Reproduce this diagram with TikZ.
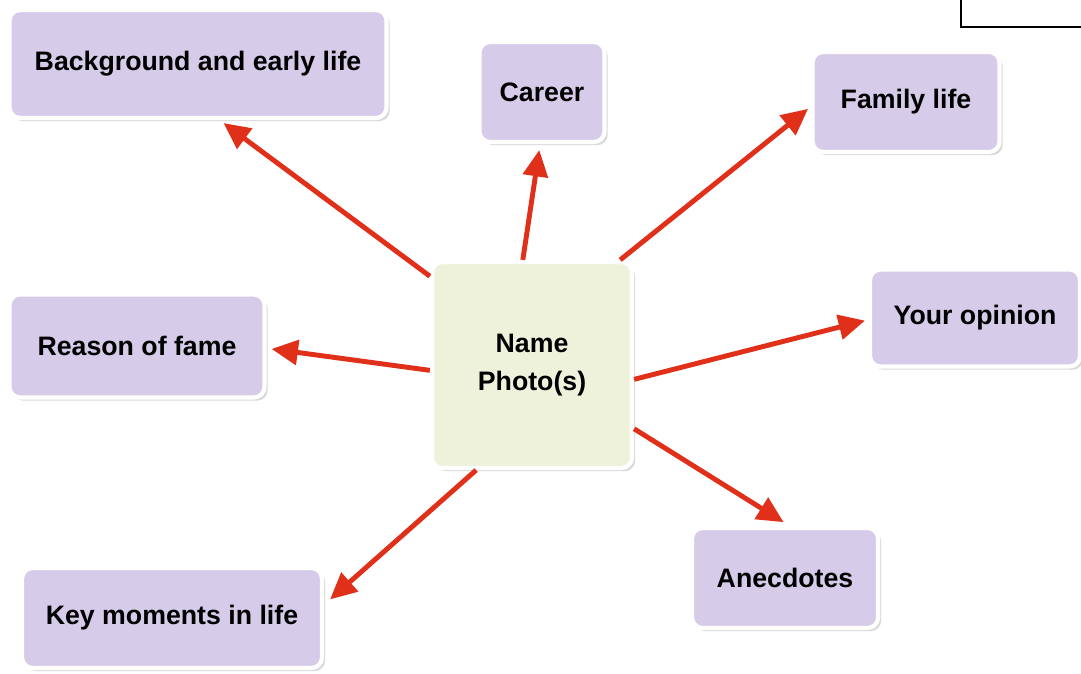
\documentclass[tikz,border=0pt]{standalone}
\usepackage{fontspec}
\setmainfont{Liberation Sans}
\usetikzlibrary{shapes, backgrounds, arrows.meta, shadows}
\definecolor{lilac}{RGB}{214,203,233}
\definecolor{palegreen}{RGB}{238,242,218}
\definecolor{arrowred}{RGB}{224,48,26}

\begin{document}
\begin{tikzpicture}
        \tikzstyle{every node}=[align=center, font=\fontsize{7.6}{9.5}\selectfont\bfseries]
        \tikzstyle{topic}=[rectangle, rounded corners=3pt, fill=lilac, draw=white, line width=1.2pt,
                drop shadow={shadow xshift=0.9pt, shadow yshift=-0.9pt, opacity=0.3}]
        \tikzstyle{hub}=[topic, fill=palegreen, font=\fontsize{7.6}{10.6}\selectfont\bfseries]
        \tikzstyle{spoke}=[draw=arrowred, line width=1.4pt, >={Triangle[length=7.5pt,width=7pt]}, ->]

        \useasboundingbox (0,0) rectangle (10.81,6.73);

        \node at (5.32, 3.08) [hub, minimum width=2cm, minimum height=2.06cm] (name) {Name\\Photo(s)};

        \node at (1.98, 6.09) [topic, minimum width=3.77cm, minimum height=1.08cm] (early) {Background and early life};
        \node at (5.42, 5.81) [topic, minimum width=1.25cm, minimum height=1cm] (career) {Career};
        \node at (9.06, 5.71) [topic, minimum width=1.87cm, minimum height=1cm] (family) {Family life};
        \node at (9.75, 3.55) [topic, minimum width=2.1cm, minimum height=0.97cm] (opinion) {Your opinion};
        \node at (1.37, 3.27) [topic, minimum width=2.55cm, minimum height=1.03cm] (fame) {Reason of fame};
        \node at (1.72, 0.55) [topic, minimum width=3cm, minimum height=1cm] (moments) {Key moments in life};
        \node at (7.85, 0.95) [topic, minimum width=1.86cm, minimum height=1cm] (anecdotes) {Anecdotes};

        % corner of the page
        \draw[line width=0.6pt] (9.61, 6.9) -- (9.61, 6.46) -- (10.95, 6.46);

        \draw[spoke, shorten >=0.05cm] (name.139)   -- (early.-69);
        \draw[spoke, shorten >=0.06cm] (name.95)    -- (career.-92);
        \draw[spoke, shorten >=0.03cm] (name.50)    -- (family.183);
        \draw[spoke, shorten >=0.03cm] (name.-8)    -- (opinion.181);
        \draw[spoke, shorten >=0.05cm] (name.183)   -- (fame.-1);
        \draw[spoke, shorten >=0.08cm] (name.-118)  -- (moments.5);
        \draw[spoke, shorten >=0.07cm] (name.-32)   -- (anecdotes.85);
\end{tikzpicture}
\end{document}
